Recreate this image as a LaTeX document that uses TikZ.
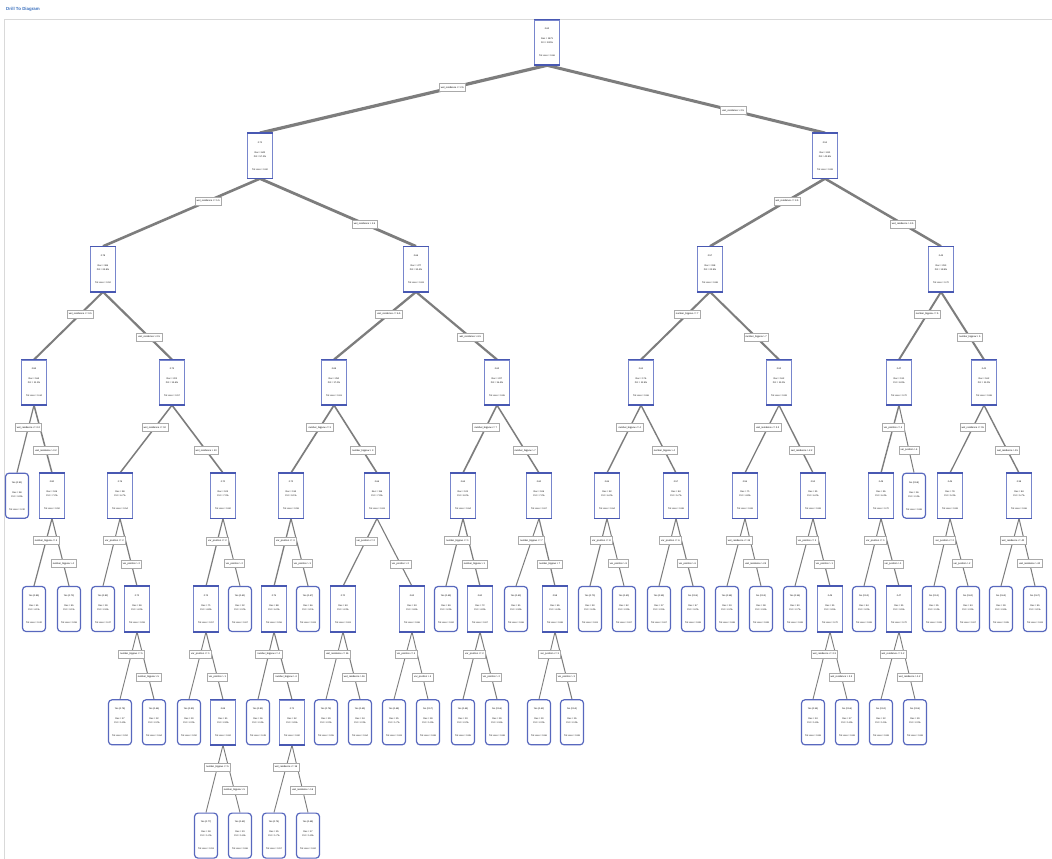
\documentclass[tikz,border=0pt]{standalone}
\usepackage{fontspec}
\setmainfont{Liberation Sans}
\usetikzlibrary{calc,shadows}
\pgfdeclarelayer{background}
\pgfsetlayers{background,main}
\definecolor{decblue}{RGB}{72,88,178}
\definecolor{decside}{RGB}{120,134,205}
\definecolor{leafblue}{RGB}{88,104,190}
\definecolor{edgegray}{RGB}{125,125,125}
\definecolor{lblgray}{RGB}{170,170,170}
\definecolor{titleblue}{RGB}{58,112,190}
\tikzset{
  dec/.style={rectangle, draw=decside, line width=0.6pt, fill=white,
    minimum width=25pt, minimum height=45pt, inner sep=0pt, align=center,
    font=\fontsize{2.3}{4}\selectfont},
  decbar/.style={draw=decblue, line width=1.6pt},
  leaf/.style={rectangle, rounded corners=3.5pt, draw=leafblue, line width=1.2pt, fill=white,
    minimum width=23pt, minimum height=45pt, inner sep=0pt, align=center,
    font=\fontsize{2.3}{4}\selectfont},
  edge/.style={draw=edgegray, line cap=butt},
  lbl/.style={rectangle, draw=lblgray, line width=0.5pt, fill=white,
    inner xsep=1.8pt, inner ysep=0pt, minimum height=8pt,
    font=\fontsize{2.4}{3}\selectfont,
    drop shadow={shadow xshift=0.7pt, shadow yshift=-0.7pt, fill=black!22, opacity=1}},
}
\newcommand\NT[4]{#1\\[6pt]Rec = #2\\Pct = #3\\[9pt]Tot Loss = #4}
\newcommand\DN[7]{%
  \node[dec] (#1) at (#2,{42.5+113.3*#3}) {\NT{#4}{#5}{#6}{#7}};
  \draw[decbar] (#1.north west) -- (#1.north east);
  \draw[decbar] (#1.south west) -- (#1.south east);}
\newcommand\LF[7]{%
  \node[leaf] (#1) at (#2,{42.5+113.3*#3}) {\NT{#4}{#5}{#6}{#7}};}
\newcommand\SP[7]{%
  \begin{pgfonlayer}{background}
    \draw[edge, line width=#6pt] (#1.south) -- (#2.north);
    \draw[edge, line width=#7pt] (#1.south) -- (#3.north);
  \end{pgfonlayer}
  \node[lbl] (#2lbl) at ($(#1.south)!.33!(#2.north)$) {#4 <= #5};
  \node[lbl] (#3lbl) at ($(#1.south)!.67!(#3.north)$) {#4 > #5};}
\begin{document}
\begin{tikzpicture}[x=1pt, y=-1pt]
\useasboundingbox (0,0) rectangle (1052,859);
\begin{pgfonlayer}{background}
\fill[white] (0,0) rectangle (1052,859);
\coordinate (frameTL) at (4,19);
\coordinate (frameTR) at (1052,19);
\coordinate (frameBL) at (4,859);
\draw[black!15, line width=0.8pt] (frameBL) -- (frameTL) -- (frameTR);
\end{pgfonlayer}
\node[anchor=west, inner sep=0pt, text=titleblue, font=\bfseries\fontsize{4.4}{5}\selectfont] (title) at (6,9) {Drill To Diagram};
% level 0-3
\DN{r}{547}{0}{0.62}{1473}{100\%}{0.66}
\DN{n0}{260}{1}{0.71}{842}{57.2\%}{0.60}
\DN{n1}{825}{1}{0.51}{631}{42.8\%}{0.69}
\DN{n00}{103}{2}{0.78}{365}{24.8\%}{0.52}
\DN{n01}{416}{2}{0.66}{477}{32.4\%}{0.63}
\DN{n10}{710}{2}{0.57}{338}{22.9\%}{0.68}
\DN{n11}{941}{2}{0.44}{293}{19.9\%}{0.70}
\DN{n000}{34}{3}{0.84}{164}{11.1\%}{0.44}
\DN{n001}{172}{3}{0.73}{201}{13.6\%}{0.57}
\DN{n010}{334}{3}{0.69}{250}{17.0\%}{0.61}
\DN{n011}{497}{3}{0.62}{227}{15.4\%}{0.65}
\DN{n100}{641}{3}{0.61}{176}{11.9\%}{0.66}
\DN{n101}{779}{3}{0.53}{162}{11.0\%}{0.69}
\DN{n110}{899}{3}{0.47}{131}{8.9\%}{0.70}
\DN{n111}{984}{3}{0.41}{162}{11.0\%}{0.68}
% level 4
\LF{n0000}{17}{4}{Yes (0.91)}{58}{3.9\%}{0.30}
\DN{n0001}{52}{4}{0.80}{106}{7.2\%}{0.50}
\DN{n0010}{120}{4}{0.76}{98}{6.7\%}{0.54}
\DN{n0011}{223}{4}{0.70}{103}{7.0\%}{0.60}
\DN{n0100}{291}{4}{0.72}{134}{9.1\%}{0.58}
\DN{n0101}{377}{4}{0.66}{116}{7.9\%}{0.63}
\DN{n0110}{463}{4}{0.64}{121}{8.2\%}{0.64}
\DN{n0111}{539}{4}{0.60}{106}{7.2\%}{0.67}
\DN{n1000}{607}{4}{0.65}{92}{6.2\%}{0.64}
\DN{n1001}{676}{4}{0.57}{84}{5.7\%}{0.68}
\DN{n1010}{745}{4}{0.55}{71}{4.8\%}{0.69}
\DN{n1011}{813}{4}{0.52}{91}{6.2\%}{0.69}
\DN{n1100}{881}{4}{0.49}{95}{6.4\%}{0.70}
\LF{n1101}{914}{4}{No (0.58)}{36}{2.4\%}{0.68}
\DN{n1110}{950}{4}{0.45}{78}{5.3\%}{0.69}
\DN{n1111}{1019}{4}{0.38}{84}{5.7\%}{0.66}
% level 5
\LF{n00010}{34}{5}{Yes (0.85)}{61}{4.1\%}{0.42}
\LF{n00011}{69}{5}{Yes (0.73)}{45}{3.1\%}{0.58}
\LF{n00100}{103}{5}{Yes (0.82)}{39}{2.6\%}{0.47}
\DN{n00101}{137}{5}{0.72}{59}{4.0\%}{0.59}
\DN{n00110}{206}{5}{0.74}{71}{4.8\%}{0.57}
\LF{n00111}{240}{5}{Yes (0.61)}{32}{2.2\%}{0.67}
\DN{n01000}{274}{5}{0.75}{88}{6.0\%}{0.56}
\LF{n01001}{308}{5}{Yes (0.67)}{46}{3.1\%}{0.63}
\DN{n01010}{343}{5}{0.70}{63}{4.3\%}{0.61}
\DN{n01011}{412}{5}{0.62}{53}{3.6\%}{0.66}
\LF{n01100}{446}{5}{Yes (0.69)}{49}{3.3\%}{0.62}
\DN{n01101}{480}{5}{0.60}{72}{4.9\%}{0.67}
\LF{n01110}{516}{5}{Yes (0.63)}{41}{2.8\%}{0.66}
\DN{n01111}{555}{5}{0.58}{65}{4.4\%}{0.68}
\LF{n10000}{590}{5}{Yes (0.70)}{50}{3.4\%}{0.61}
\LF{n10001}{624}{5}{Yes (0.60)}{42}{2.9\%}{0.67}
\LF{n10010}{659}{5}{Yes (0.59)}{37}{2.5\%}{0.67}
\LF{n10011}{693}{5}{No (0.55)}{47}{3.2\%}{0.69}
\LF{n10100}{727}{5}{Yes (0.58)}{33}{2.2\%}{0.68}
\LF{n10101}{761}{5}{No (0.53)}{38}{2.6\%}{0.69}
\LF{n10110}{795}{5}{Yes (0.56)}{40}{2.7\%}{0.69}
\DN{n10111}{830}{5}{0.49}{51}{3.5\%}{0.70}
\LF{n11000}{864}{5}{No (0.52)}{44}{3.0\%}{0.69}
\DN{n11001}{899}{5}{0.47}{51}{3.5\%}{0.70}
\LF{n11100}{934}{5}{No (0.51)}{35}{2.4\%}{0.69}
\LF{n11101}{968}{5}{No (0.60)}{43}{2.9\%}{0.67}
\LF{n11110}{1001}{5}{No (0.64)}{39}{2.6\%}{0.65}
\LF{n11111}{1035}{5}{No (0.67)}{45}{3.1\%}{0.63}
% level 6
\LF{n001010}{120}{6}{Yes (0.78)}{27}{1.8\%}{0.52}
\LF{n001011}{154}{6}{Yes (0.66)}{32}{2.2\%}{0.64}
\LF{n001100}{189}{6}{Yes (0.80)}{30}{2.0\%}{0.50}
\DN{n001101}{223}{6}{0.69}{41}{2.8\%}{0.62}
\LF{n010000}{258}{6}{Yes (0.81)}{36}{2.4\%}{0.49}
\DN{n010001}{292}{6}{0.71}{52}{3.5\%}{0.60}
\LF{n010100}{326}{6}{Yes (0.76)}{29}{2.0\%}{0.55}
\LF{n010101}{360}{6}{Yes (0.65)}{34}{2.3\%}{0.64}
\LF{n010110}{394}{6}{Yes (0.68)}{25}{1.7\%}{0.63}
\LF{n010111}{428}{6}{No (0.57)}{28}{1.9\%}{0.68}
\LF{n011010}{463}{6}{Yes (0.64)}{33}{2.2\%}{0.65}
\LF{n011011}{497}{6}{No (0.56)}{39}{2.6\%}{0.68}
\LF{n011110}{539}{6}{Yes (0.62)}{30}{2.0\%}{0.66}
\LF{n011111}{572}{6}{No (0.54)}{35}{2.4\%}{0.69}
\LF{n101110}{813}{6}{Yes (0.54)}{24}{1.6\%}{0.69}
\LF{n101111}{847}{6}{No (0.56)}{27}{1.8\%}{0.69}
\LF{n110010}{881}{6}{No (0.50)}{22}{1.5\%}{0.69}
\LF{n110011}{915}{6}{No (0.55)}{29}{2.0\%}{0.69}
% level 7
\LF{n0011010}{206}{7}{Yes (0.77)}{18}{1.2\%}{0.53}
\LF{n0011011}{240}{7}{Yes (0.62)}{23}{1.6\%}{0.66}
\LF{n0100010}{274}{7}{Yes (0.74)}{25}{1.7\%}{0.57}
\LF{n0100011}{308}{7}{Yes (0.68)}{27}{1.8\%}{0.62}
% splits
\SP{r}{n0}{n1}{wet\_residence}{2.5}{3.2}{3.0}
\SP{n0}{n00}{n01}{wet\_residence}{1.5}{2.6}{2.8}
\SP{n1}{n10}{n11}{wet\_residence}{3.5}{2.6}{2.5}
\SP{n00}{n000}{n001}{wet\_residence}{0.5}{2.0}{2.2}
\SP{n01}{n010}{n011}{wet\_residence}{6.5}{2.3}{2.2}
\SP{n10}{n100}{n101}{number\_bigpow}{7}{2.0}{2.0}
\SP{n11}{n110}{n111}{number\_bigpow}{5}{1.9}{2.0}
\SP{n000}{n0000}{n0001}{wet\_residence}{0.2}{1.2}{1.5}
\SP{n001}{n0010}{n0011}{wet\_residence}{10}{1.5}{1.6}
\SP{n010}{n0100}{n0101}{number\_bigpow}{3}{1.7}{1.6}
\SP{n011}{n0110}{n0111}{number\_bigpow}{7}{1.6}{1.5}
\SP{n100}{n1000}{n1001}{number\_bigpow}{4}{1.4}{1.4}
\SP{n101}{n1010}{n1011}{wet\_residence}{2.2}{1.3}{1.4}
\SP{n110}{n1100}{n1101}{var\_position}{4}{1.4}{1.0}
\SP{n111}{n1110}{n1111}{wet\_residence}{15}{1.3}{1.4}
\SP{n0001}{n00010}{n00011}{number\_bigpow}{4}{1.2}{1.1}
\SP{n0010}{n00100}{n00101}{var\_position}{2}{1.0}{1.2}
\SP{n0011}{n00110}{n00111}{var\_position}{2}{1.2}{1.0}
\SP{n0100}{n01000}{n01001}{var\_position}{3}{1.3}{1.1}
\SP{n0101}{n01010}{n01011}{var\_position}{2}{1.2}{1.1}
\SP{n0110}{n01100}{n01101}{number\_bigpow}{1}{1.1}{1.2}
\SP{n0111}{n01110}{n01111}{number\_bigpow}{7}{1.0}{1.2}
\SP{n1000}{n10000}{n10001}{var\_position}{8}{1.1}{1.0}
\SP{n1001}{n10010}{n10011}{var\_position}{6}{1.0}{1.1}
\SP{n1010}{n10100}{n10101}{wet\_residence}{24}{1.0}{1.0}
\SP{n1011}{n10110}{n10111}{var\_position}{1}{1.0}{1.1}
\SP{n1100}{n11000}{n11001}{var\_position}{1}{1.0}{1.1}
\SP{n1110}{n11100}{n11101}{var\_position}{2}{1.0}{1.0}
\SP{n1111}{n11110}{n11111}{wet\_residence}{40}{1.0}{1.0}
\SP{n00101}{n001010}{n001011}{number\_bigpow}{5}{0.9}{1.0}
\SP{n00110}{n001100}{n001101}{var\_position}{1}{0.9}{1.0}
\SP{n01000}{n010000}{n010001}{number\_bigpow}{4}{1.0}{1.1}
\SP{n01010}{n010100}{n010101}{wet\_residence}{16}{0.9}{1.0}
\SP{n01011}{n010110}{n010111}{var\_position}{4}{0.9}{0.9}
\SP{n01101}{n011010}{n011011}{var\_position}{2}{1.0}{1.0}
\SP{n01111}{n011110}{n011111}{var\_position}{3}{0.9}{1.0}
\SP{n10111}{n101110}{n101111}{wet\_residence}{2.3}{0.9}{0.9}
\SP{n11001}{n110010}{n110011}{wet\_residence}{1.2}{0.9}{0.9}
\SP{n001101}{n0011010}{n0011011}{number\_bigpow}{5}{0.9}{0.9}
\SP{n010001}{n0100010}{n0100011}{wet\_residence}{16}{0.9}{0.9}
\end{tikzpicture}
\end{document}
